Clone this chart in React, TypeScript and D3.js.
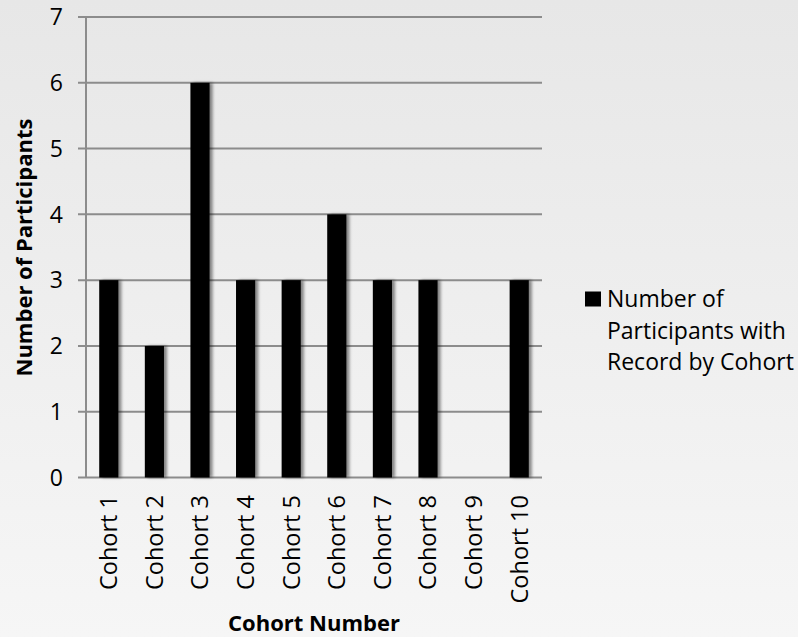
import React from "react";
import * as d3 from "d3";

const categories = ["Cohort 1", "Cohort 2", "Cohort 3", "Cohort 4", "Cohort 5", "Cohort 6", "Cohort 7", "Cohort 8", "Cohort 9", "Cohort 10"];
const values = [3, 2, 6, 3, 3, 4, 3, 3, 0, 3];
const yTicks = [0, 1, 2, 3, 4, 5, 6, 7];
const seriesName = ["Number of", "Participants with", "Record by Cohort"];
const xTitle = "Cohort Number";
const yTitle = "Number of Participants";

const W = 798;
const H = 637;
const FONT = "'Open Sans', sans-serif";

export default function App() {
  const x = d3.scaleBand<string>().domain(categories).range([86, 542]).paddingInner(0.58).paddingOuter(0.29);
  const y = d3.scaleLinear().domain([0, 7]).range([477.5, 17]);
  return (
    <svg width={W} height={H} style={{ position: "absolute", left: 0, top: 0 }} fontFamily={FONT}>
      <defs>
        <linearGradient id="bg" x1="0" y1="0" x2="0" y2="1">
          <stop offset="0" stopColor="#e7e7e7" />
          <stop offset="1" stopColor="#f6f6f6" />
        </linearGradient>
        <filter id="sh" x="-50%" y="-10%" width="200%" height="120%">
          <feDropShadow dx="3" dy="0" stdDeviation="1.8" floodColor="#000" floodOpacity="0.45" />
        </filter>
      </defs>
      <rect x={0} y={0} width={W} height={H} fill="url(#bg)" />
      {yTicks.map((t) => (
        <line key={t} x1={78} x2={542} y1={y(t)} y2={y(t)} stroke="#8c8c8c" strokeWidth={2} />
      ))}
      <line x1={86} x2={86} y1={y(7)} y2={y(0)} stroke="#8c8c8c" strokeWidth={2} />
      {yTicks.map((t) => (
        <text key={t} x={63} y={y(t)} dy="0.36em" textAnchor="end" fontSize={23} fill="#000">
          {t}
        </text>
      ))}
      {categories.map((c, i) =>
        values[i] > 0 ? (
          <rect key={c} x={x(c)} y={y(values[i])} width={x.bandwidth()} height={y(0) - y(values[i])} fill="#000" filter="url(#sh)" />
        ) : null
      )}
      {categories.map((c) => {
        const cx = (x(c) as number) + x.bandwidth() / 2;
        return (
          <text key={c} transform={`translate(${cx},${495}) rotate(-90)`} textAnchor="end" dy="0.36em" fontSize={23.5} fill="#000">
            {c}
          </text>
        );
      })}
      <text transform={`translate(24,${247.5}) rotate(-90)`} textAnchor="middle" dy="0.36em" fontSize={22} fontWeight="bold" fill="#000">
        {yTitle}
      </text>
      <text x={314} y={631} textAnchor="middle" fontSize={22} fontWeight="bold" fill="#000">
        {xTitle}
      </text>
      <rect x={585} y={291.5} width={16} height={15} fill="#000" />
      {seriesName.map((s, i) => (
        <text key={s} x={607} y={307 + i * 31.5} fontSize={23} fill="#000">
          {s}
        </text>
      ))}
    </svg>
  );
}
